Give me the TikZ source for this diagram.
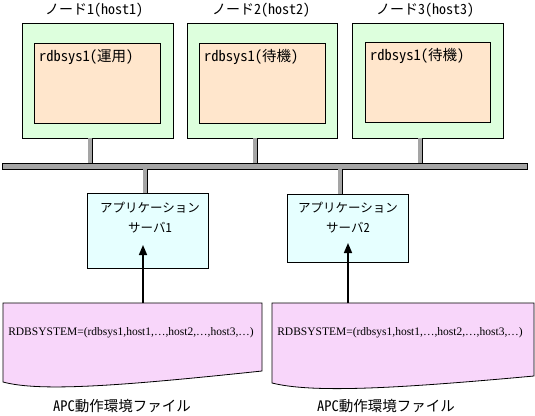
\documentclass[tikz,border=0pt]{standalone}
\usepackage{fontspec}
\setmainfont{Liberation Serif}
\newfontfamily\jp{Noto Sans CJK JP}
\newfontfamily\jph[CharacterWidth=Half]{Noto Sans CJK JP}
\usetikzlibrary{arrows.meta}
\definecolor{nodegreen}{RGB}{221,255,221}
\definecolor{peach}{RGB}{255,230,204}
\definecolor{srvcyan}{RGB}{230,255,255}
\definecolor{filepink}{RGB}{248,214,250}
\definecolor{stubgray}{RGB}{165,165,165}
\begin{document}
\begin{tikzpicture}[x=1pt,y=-1pt,
  outerbox/.style={draw=black, line width=0.8pt, fill=nodegreen, inner sep=0pt, minimum height=115pt},
  innerbox/.style={draw=black, line width=0.8pt, fill=peach, inner sep=0pt, minimum width=126pt, minimum height=80pt},
  server/.style={draw=black, line width=0.8pt, fill=srvcyan, inner sep=0pt, minimum width=121pt},
  bar/.style={draw=black, line width=0.8pt, fill=stubgray, inner sep=0pt},
  stub/.style={draw=black, line width=0.8pt, double=stubgray, double distance=3.4pt},
  arr/.style={line width=1.6pt, -{Triangle[width=8pt,length=10pt]}},
  filebox/.style={draw=black, line width=0.8pt, fill=filepink},
  lbl/.style={font=\jp\fontsize{14}{16}\selectfont, inner sep=0pt},
  srvtxt/.style={font=\jp\fontsize{12.5}{20}\selectfont, inner sep=0pt, align=center},
  dbtxt/.style={font=\jp\fontsize{14.5}{16}\selectfont, inner sep=0pt, anchor=west},
  conftxt/.style={font=\fontsize{11.5}{13}\selectfont, inner sep=0pt},
  captxt/.style={font=\jp\fontsize{14.5}{16}\selectfont, inner sep=0pt}
]
\useasboundingbox (0,0) rectangle (535,415);

% node labels
\node[lbl] (l1) at (94,10) {ノード{\jph 1(host1)}};
\node[lbl] (l2) at (261,10) {ノード{\jph 2(host2)}};
\node[lbl] (l3) at (425,10) {ノード{\jph 3(host3)}};

% nodes
\node[outerbox, minimum width=151pt] (n1) at (97.5,80.5) {};
\node[outerbox, minimum width=150pt] (n2) at (262,80.5) {};
\node[outerbox, minimum width=151pt] (n3) at (427.5,80.5) {};
\node[innerbox] (d1) at (97,83) {};
\node[innerbox] (d2) at (262,83) {};
\node[innerbox, minimum width=125pt] (d3) at (427.5,82) {};
\node[dbtxt] (d1t) at (39,57) {{\jph rdbsys1(}運用{\jph )}};
\node[dbtxt] (d2t) at (204,57) {{\jph rdbsys1(}待機{\jph )}};
\node[dbtxt] (d3t) at (370,56) {{\jph rdbsys1(}待機{\jph )}};

% bus
\node[bar, minimum width=525pt, minimum height=6pt] (bus) at (264.5,166) {};

% servers
\node[server, minimum height=75pt] (s1) at (147.5,230.5) {};
\node[server, minimum height=68pt] (s2) at (347.5,228) {};
\node[srvtxt] (s1t) at (150,218) {アプリケーション\\サーバ{\jph 1}};
\node[srvtxt] (s2t) at (348,218) {アプリケーション\\サーバ{\jph 2}};

% stubs
\draw[stub] ([xshift=-7.5pt]n1.south) -- ([xshift=-7.5pt]n1.south |- bus.north);
\draw[stub] ([xshift=-7pt]n2.south) -- ([xshift=-7pt]n2.south |- bus.north);
\draw[stub] ([xshift=-7.5pt]n3.south) -- ([xshift=-7.5pt]n3.south |- bus.north);
\draw[stub] ([xshift=-2.5pt]s1.north |- bus.south) -- ([xshift=-2.5pt]s1.north);
\draw[stub] ([xshift=-7.5pt]s2.north |- bus.south) -- ([xshift=-7.5pt]s2.north);

% files
\draw[filebox] (3,303) -- (262,303) -- (262,371) .. controls (120,386) and (40,392) .. (3,382) -- cycle;
\draw[filebox] (272,303) -- (534,303) -- (534,376) .. controls (392,389) and (312,393) .. (272,383) -- cycle;
\node[conftxt] (f1) at (131,333) {RDBSYSTEM=(rdbsys1,host1,…,host2,…,host3,…)};
\node[conftxt] (f2) at (400,333) {RDBSYSTEM=(rdbsys1,host1,…,host2,…,host3,…)};
\node[captxt] (c1) at (122,406) {{\jph APC}動作環境ファイル};
\node[captxt] (c2) at (386,406) {{\jph APC}動作環境ファイル};

% arrows
\coordinate (f1top) at (143,303);
\coordinate (f2top) at (348,303);
\coordinate (s1in) at (143,245);
\coordinate (s2in) at (348,243);
\draw[arr] (f1top) -- (s1in);
\draw[arr] (f2top) -- (s2in);
\end{tikzpicture}
\end{document}
